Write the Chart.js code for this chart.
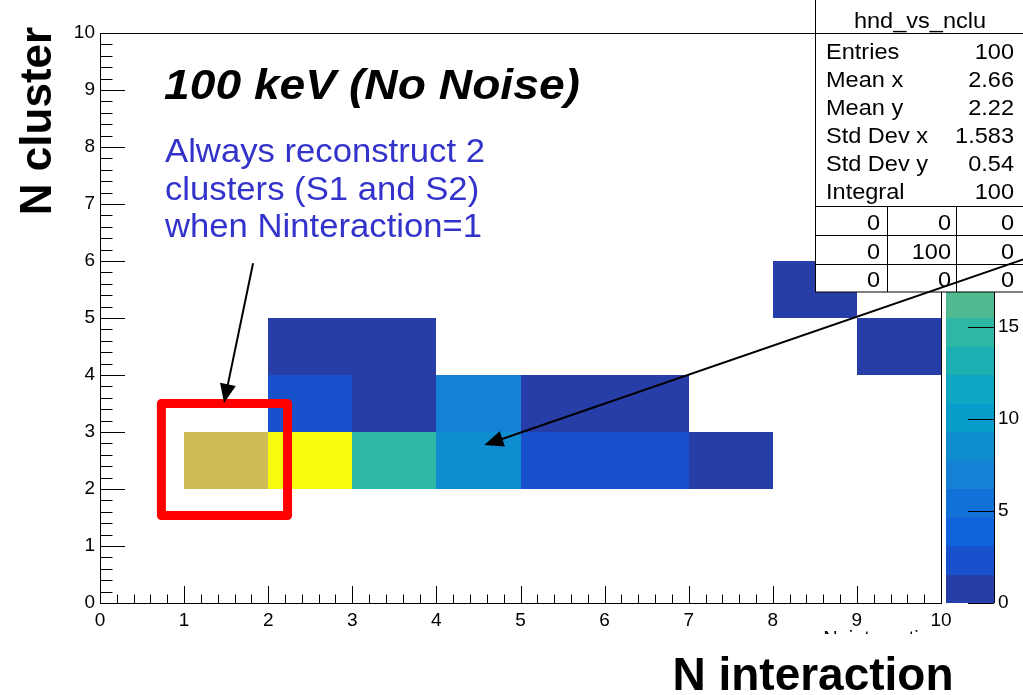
<!DOCTYPE html>
<html>
<head>
<meta charset="utf-8">
<title>hnd_vs_nclu</title>
<script src="https://cdn.jsdelivr.net/npm/chart.js@4.4.1/dist/chart.umd.min.js"></script>
<style>
  html,body{margin:0;padding:0;background:#fff;overflow:hidden}
  canvas{display:block}
</style>
</head>
<body>
<canvas id="chart" width="1023" height="695"></canvas>
<script>
// bin low edges (x = N interaction, y = N cluster) and counts
const binX   = [1, 2, 3, 4, 5, 6, 7,   2, 3, 4, 5, 6,   2, 3, 9,   8];
const binY   = [2, 2, 2, 2, 2, 2, 2,   3, 3, 3, 3, 3,   4, 4, 4,   5];
const counts = [23,31,15, 8, 3, 2, 1,  3, 1, 7, 1, 1,   1, 1, 1,   1];

const xTickValues = [0,1,2,3,4,5,6,7,8,9,10];
const yTickValues = [0,1,2,3,4,5,6,7,8,9,10];
const zTickValues = [0,5,10,15,20,25,30];

const statsName = 'hnd_vs_nclu';
const statsLabels = ['Entries','Mean x','Mean y','Std Dev x','Std Dev y','Integral'];
const titleText = '100 keV (No Noise)';
const noteLines = ['Always reconstruct 2','clusters (S1 and S2)','when Ninteraction=1'];
const xTitle = 'N interaction';
const yTitle = 'N cluster';
const rootXTitle = 'N_interaction';

// annotation anchors, in data units
const boxRange = {x0:0.73, x1:2.23, y0:1.535, y1:3.5};
const arrowA = {x0:1.82, y0:5.96, x1:1.475, y1:3.51};
const arrowB = {x0:11.1, y0:6.09, x1:4.57, y1:2.77};

const FONT = '"Liberation Sans", Arial, Helvetica, sans-serif';
const zMax = Math.max(...counts);
const nCont = 20;

// ROOT kBird palette
const birdStops = [0.0000,0.1250,0.2500,0.3750,0.5000,0.6250,0.7500,0.8750,1.0000];
const birdR = [0.2082,0.0592,0.0780,0.0232,0.1802,0.5301,0.8186,0.9956,0.9764];
const birdG = [0.1664,0.3599,0.5041,0.6419,0.7178,0.7492,0.7328,0.7862,0.9832];
const birdB = [0.5293,0.8684,0.8385,0.7914,0.6425,0.4662,0.3499,0.1968,0.0539];
function bird(f){
  let i = 0;
  while (i < birdStops.length-2 && f > birdStops[i+1]) i++;
  const t = (f - birdStops[i]) / (birdStops[i+1] - birdStops[i]);
  const c = a => Math.round(255*(a[i] + t*(a[i+1]-a[i])));
  return 'rgb('+c(birdR)+','+c(birdG)+','+c(birdB)+')';
}
function levelColor(k){
  const idx = Math.min(254, Math.floor((k+0.99)*255/nCont));
  return bird(idx/254);
}
function binColor(v){
  const k = Math.min(nCont-1, Math.floor(0.01 + v*nCont/zMax));
  return levelColor(k);
}

// stats as ROOT computes them
const entries = counts.reduce((a,b)=>a+b,0);
const sum = (f)=>counts.reduce((a,c,i)=>a + c*f(i),0);
const meanX = sum(i=>binX[i]) / entries;
const meanY = sum(i=>binY[i]) / entries;
const sdX = Math.sqrt(sum(i=>binX[i]*binX[i])/entries - meanX*meanX);
const sdY = Math.sqrt(sum(i=>binY[i]*binY[i])/entries - meanY*meanY);
const fmt = v => String(+v.toPrecision(4));
const statsValues = [String(entries), fmt(meanX), fmt(meanY), fmt(sdX), fmt(sdY), String(entries)];
const overflowTable = [[0,0,0],[0,entries,0],[0,0,0]];

function txt(ctx, s, x, y, font, color, align, sx){
  ctx.save();
  ctx.font = font; ctx.fillStyle = color; ctx.textAlign = align || 'left'; ctx.textBaseline = 'alphabetic';
  ctx.translate(x, y); ctx.scale(sx || 1, 1);
  ctx.fillText(s, 0, 0);
  ctx.restore();
}
function line(ctx, x0, y0, x1, y1){ ctx.beginPath(); ctx.moveTo(x0,y0); ctx.lineTo(x1,y1); ctx.stroke(); }
function arrow(ctx, x0, y0, x1, y1){
  const a = Math.atan2(y1-y0, x1-x0), head = 19, half = 8;
  const ca = Math.cos(a), sa = Math.sin(a);
  ctx.lineWidth = 2; ctx.strokeStyle = '#000'; ctx.fillStyle = '#000';
  line(ctx, x0, y0, x1 - head*0.7*ca, y1 - head*0.7*sa);
  ctx.beginPath();
  ctx.moveTo(x1, y1);
  ctx.lineTo(x1 - head*ca + half*sa, y1 - head*sa - half*ca);
  ctx.lineTo(x1 - head*ca - half*sa, y1 - head*sa + half*ca);
  ctx.closePath(); ctx.fill();
}

const noPad = s => { s.paddingTop = 0; s.paddingBottom = 0; s.paddingLeft = 0; s.paddingRight = 0; };

const heatPlugin = {
  id: 'heat',
  beforeDatasetsDraw(chart){
    const {ctx, scales:{x, y}} = chart;
    binX.forEach((bx, i) => {
      const x0 = Math.round(x.getPixelForValue(bx)), x1 = Math.round(x.getPixelForValue(bx+1));
      const y0 = Math.round(y.getPixelForValue(binY[i]+1)), y1 = Math.round(y.getPixelForValue(binY[i]));
      ctx.fillStyle = binColor(counts[i]);
      ctx.fillRect(x0, y0, x1-x0, y1-y0);
    });
  },
  afterDraw(chart){
    const {ctx, chartArea:ca, scales:{x, y, z}} = chart;
    const W = chart.width;

    // frame and inward ticks
    ctx.save();
    ctx.strokeStyle = '#000'; ctx.lineWidth = 1;
    ctx.strokeRect(ca.left+0.5, ca.top+0.5, ca.right-ca.left, ca.bottom-ca.top);
    for (let k = 0; k <= 50; k++){
      const px = Math.round(x.getPixelForValue(k/5)) + 0.5;
      line(ctx, px, ca.bottom, px, ca.bottom - (k%5===0 ? 17 : 8.5));
      const py = Math.round(y.getPixelForValue(k/5)) + 0.5;
      line(ctx, ca.left, py, ca.left + (k%5===0 ? 25 : 12.5), py);
    }

    // palette
    const cbL = ca.right + 5, cbR = ca.right + 53;
    for (let k = 0; k < nCont; k++){
      const y0 = Math.round(z.getPixelForValue((k+1)*zMax/nCont));
      const y1 = Math.round(z.getPixelForValue(k*zMax/nCont));
      ctx.fillStyle = levelColor(k);
      ctx.fillRect(cbL, y0, cbR-cbL, y1-y0);
    }
    line(ctx, cbR+0.5, z.getPixelForValue(zMax), cbR+0.5, z.getPixelForValue(0));
    zTickValues.forEach(v => {
      const py = Math.round(z.getPixelForValue(v)) + 0.5;
      line(ctx, cbR - 26, py, cbR, py);
    });

    // stats box
    const sbL = 815, sbB = 292;
    ctx.fillStyle = '#fff';
    ctx.fillRect(sbL, 0, W - sbL, sbB);
    ctx.strokeRect(sbL+0.5, -1, W, sbB+1);
    line(ctx, sbL, 33.5, W, 33.5);
    txt(ctx, statsName, 920, 28, '22px '+FONT, '#000', 'center', 1.07);
    statsLabels.forEach((lab, i) => {
      const by = 59 + i*27.9;
      txt(ctx, lab, 826, by, '22px '+FONT, '#000', 'left', 1.07);
      txt(ctx, statsValues[i], 1014, by, '22px '+FONT, '#000', 'right', 1.07);
    });
    [206, 235, 264].forEach(ly => line(ctx, sbL, ly+0.5, W, ly+0.5));
    line(ctx, 887.5, 206, 887.5, sbB);
    line(ctx, 956.5, 206, 956.5, sbB);
    const colR = [880, 951, 1014];
    overflowTable.forEach((row, r) => row.forEach((v, c) => {
      txt(ctx, String(v), colR[c], 230 + r*28.7, '22px '+FONT, '#000', 'right', 1.07);
    }));

    // ROOT axis title (mostly hidden)
    ctx.save();
    ctx.beginPath(); ctx.rect(0, 0, W, 634); ctx.clip();
    txt(ctx, rootXTitle, ca.right, 645, '20px '+FONT, '#000', 'right', 1.0);
    ctx.restore();

    // titles
    txt(ctx, titleText, 164, 99, 'italic bold 42px '+FONT, '#000', 'left', 1.1);
    noteLines.forEach((s, i) => txt(ctx, s, 165, 162 + i*37.5, '34px '+FONT, '#3333cc', 'left', 1.02));
    txt(ctx, xTitle, 813, 690, 'bold 46px '+FONT, '#000', 'center', 1.0);
    ctx.save();
    ctx.translate(51, 121); ctx.rotate(-Math.PI/2);
    txt(ctx, yTitle, 0, 0, 'bold 44px '+FONT, '#000', 'center', 1.0);
    ctx.restore();

    // red highlight box
    ctx.strokeStyle = '#ff0000'; ctx.lineWidth = 9; ctx.lineJoin = 'round';
    const rx0 = x.getPixelForValue(boxRange.x0), rx1 = x.getPixelForValue(boxRange.x1);
    const ry0 = y.getPixelForValue(boxRange.y1), ry1 = y.getPixelForValue(boxRange.y0);
    ctx.strokeRect(rx0, ry0, rx1-rx0, ry1-ry0);

    // arrows
    arrow(ctx, x.getPixelForValue(arrowA.x0), y.getPixelForValue(arrowA.y0),
               x.getPixelForValue(arrowA.x1), y.getPixelForValue(arrowA.y1));
    arrow(ctx, x.getPixelForValue(arrowB.x0), y.getPixelForValue(arrowB.y0),
               x.getPixelForValue(arrowB.x1), y.getPixelForValue(arrowB.y1));
    ctx.restore();
  }
};

const tickFont = {family: FONT, size: 19};
new Chart(document.getElementById('chart').getContext('2d'), {
  type: 'scatter',
  data: {
    datasets: [{
      data: binX.map((bx, i) => ({x: bx + 0.5, y: binY[i] + 0.5})),
      pointRadius: 0, pointHoverRadius: 0
    }]
  },
  options: {
    responsive: false,
    animation: false,
    events: [],
    layout: {padding: {top: 33, left: 0, right: 0, bottom: 0}},
    plugins: {legend: {display: false}, tooltip: {enabled: false}},
    scales: {
      x: {
        type: 'linear', min: 0, max: 10,
        grid: {display: false, drawTicks: false}, border: {display: false},
        afterBuildTicks: s => { s.ticks = xTickValues.map(v => ({value: v})); },
        ticks: {font: tickFont, color: '#000', padding: 6, maxRotation: 0, autoSkip: false},
        afterFit: s => { s.height = 92; noPad(s); }
      },
      y: {
        type: 'linear', min: 0, max: 10, position: 'left',
        grid: {display: false, drawTicks: false}, border: {display: false},
        afterBuildTicks: s => { s.ticks = yTickValues.map(v => ({value: v})); },
        ticks: {font: tickFont, color: '#000', padding: 5, autoSkip: false},
        afterFit: s => { s.width = 100; noPad(s); }
      },
      z: {
        type: 'linear', min: 0, max: zMax, position: 'right',
        grid: {display: false, drawTicks: false}, border: {display: false},
        afterBuildTicks: s => { s.ticks = zTickValues.map(v => ({value: v})); },
        ticks: {font: tickFont, color: '#000', padding: 57, autoSkip: false},
        afterFit: s => { s.width = 82; noPad(s); }
      }
    }
  },
  plugins: [heatPlugin]
});
</script>
</body>
</html>
